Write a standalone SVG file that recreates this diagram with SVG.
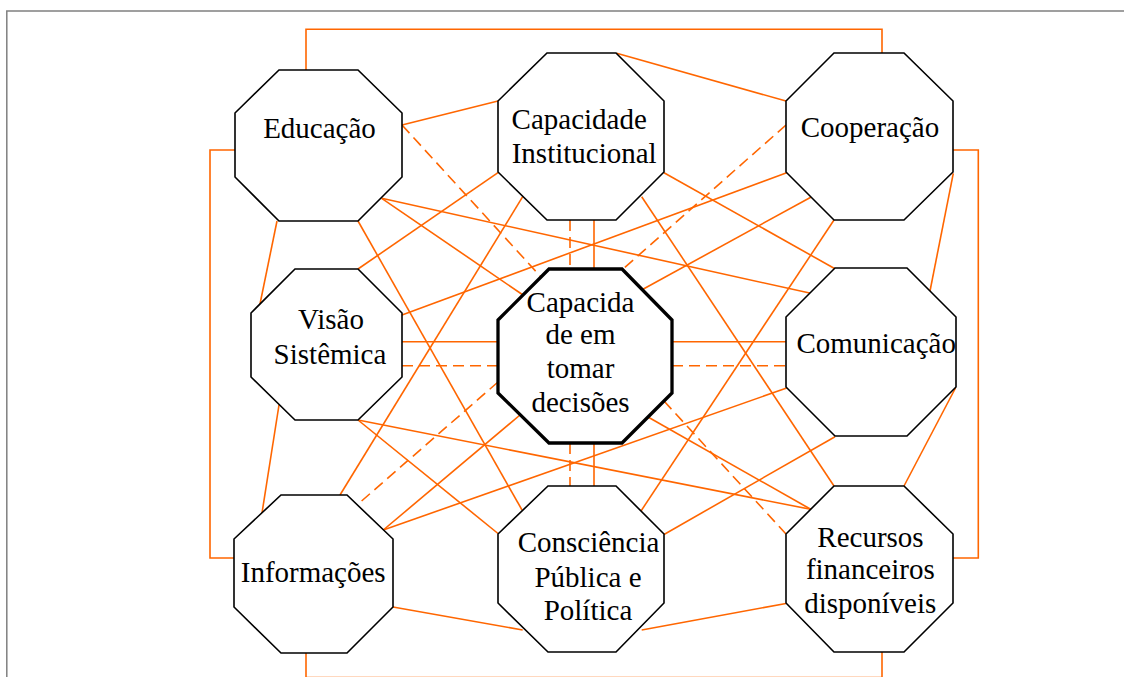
<svg xmlns="http://www.w3.org/2000/svg" width="1124" height="677" viewBox="0 0 1124 677">
<style>
.frame{fill:none;stroke:#808080;stroke-width:1.5}
.c{fill:none;stroke:#FF6600;stroke-width:1.6}
.d{fill:none;stroke:#FF6600;stroke-width:1.6;stroke-dasharray:11 6}
.oct{fill:#fff;stroke:#000;stroke-width:1.6;stroke-linejoin:miter}
.octc{fill:#fff;stroke:#000;stroke-width:3.3;stroke-linejoin:miter}
text{font-family:"Liberation Serif","Times New Roman",serif;font-size:29px;fill:#000;text-anchor:middle}
</style>
<rect width="1124" height="677" fill="#fff"/>
<polyline class="frame" points="6.8,677 6.8,11 1124,11"/>
<g id="connectors">
<polyline class="c" points="306,70 306,29.3 882,29.3 882,53"/>
<polyline class="c" points="235,150 210,150 210,558 234,558"/>
<polyline class="c" points="953,150 978.3,150 978.3,558 953,558"/>
<polyline class="c" points="306,653 306,677.6 882,677.6 882,652"/>
<line class="c" x1="402" y1="125" x2="498" y2="101"/>
<line class="d" x1="402" y1="125" x2="541" y2="277"/>
<line class="c" x1="381.7" y1="198.3" x2="810.7" y2="293.3"/>
<line class="c" x1="381.7" y1="198.3" x2="523" y2="295"/>
<line class="c" x1="277" y1="221" x2="260" y2="304"/>
<line class="c" x1="358" y1="221" x2="522" y2="510"/>
<line class="c" x1="616.7" y1="53.3" x2="786" y2="101"/>
<line class="c" x1="498" y1="172.7" x2="358" y2="269"/>
<line class="c" x1="522.7" y1="196.7" x2="340" y2="495"/>
<line class="c" x1="664" y1="172.7" x2="834.5" y2="268.5"/>
<line class="c" x1="641.7" y1="196.7" x2="834" y2="486"/>
<line class="c" x1="594" y1="220" x2="594" y2="269"/>
<line class="d" x1="570" y1="220" x2="570" y2="269"/>
<line class="c" x1="786.7" y1="172.7" x2="402" y2="315"/>
<line class="c" x1="811.7" y1="196.7" x2="642.5" y2="289.5"/>
<line class="d" x1="786" y1="125" x2="623" y2="269"/>
<line class="c" x1="834" y1="220" x2="641" y2="511"/>
<line class="c" x1="953.3" y1="173.3" x2="930" y2="291"/>
<line class="c" x1="402" y1="341.7" x2="498" y2="341.7"/>
<line class="d" x1="402" y1="365.7" x2="498" y2="365.7"/>
<line class="c" x1="358" y1="420" x2="498" y2="533.5"/>
<line class="c" x1="358" y1="420" x2="810.7" y2="509.3"/>
<line class="c" x1="279" y1="405" x2="262" y2="513"/>
<line class="c" x1="672" y1="341.7" x2="786" y2="341.7"/>
<line class="d" x1="672" y1="365.7" x2="786" y2="365.7"/>
<line class="d" x1="498" y1="382" x2="357" y2="505"/>
<line class="c" x1="520" y1="415" x2="383.3" y2="530"/>
<line class="d" x1="570" y1="443" x2="570" y2="486"/>
<line class="c" x1="594" y1="443" x2="594" y2="486"/>
<line class="d" x1="664" y1="401" x2="786" y2="534"/>
<line class="c" x1="648" y1="417" x2="810.7" y2="509.3"/>
<line class="c" x1="786.7" y1="388" x2="383.3" y2="530"/>
<line class="c" x1="835" y1="436.7" x2="664" y2="534.5"/>
<line class="c" x1="955.5" y1="388" x2="904" y2="486"/>
<line class="c" x1="393" y1="607" x2="522.7" y2="630"/>
<line class="c" x1="641.7" y1="630" x2="786" y2="603.5"/>
</g>
<g id="educacao">
<polygon class="oct" points="279,70 358,70 402,113 402,177 358,221 279,221 235,177 235,113"/>
<text x="319.5" y="138">Educação</text>
</g>
<g id="capacidade-institucional">
<polygon class="oct" points="547,53 616,53 664,101 664,172 616,220 547,220 498,172 498,101"/>
<text x="579.2" y="128.5">Capacidade</text>
<text x="584.2" y="162.7">Institucional</text>
</g>
<g id="cooperacao">
<polygon class="oct" points="834,53 904,53 953,101 953,172 904,220 834,220 786,172 786,101"/>
<text x="870" y="136.7">Cooperação</text>
</g>
<g id="visao-sistemica">
<polygon class="oct" points="295,269 358,269 402,313 402,377 358,420 295,420 251,377 251,313"/>
<text x="331" y="329.3">Visão</text>
<text x="330" y="364">Sistêmica</text>
</g>
<g id="capacidade-decisoes">
<polygon class="octc" points="549,269 622,269 672,320 672,393 622,443 549,443 498,393 498,320"/>
<text x="580.5" y="311.7">Capacida</text>
<text x="580.5" y="344.3">de em</text>
<text x="580.5" y="378.3">tomar</text>
<text x="580.5" y="412.3">decisões</text>
</g>
<g id="comunicacao">
<polygon class="oct" points="835,268 907,268 956,317 956,387 907,436 835,436 786,387 786,317"/>
<text x="876.2" y="352.7">Comunicação</text>
</g>
<g id="informacoes">
<polygon class="oct" points="281,495 347,495 393,539 393,607 347,653 281,653 234,607 234,539"/>
<text x="313.2" y="581.7">Informações</text>
</g>
<g id="consciencia">
<polygon class="oct" points="548,486 616,486 664,534 664,603 616,652 548,652 498,603 498,534"/>
<text x="588.5" y="552.3">Consciência</text>
<text x="588" y="586.7">Pública e</text>
<text x="588" y="620">Política</text>
</g>
<g id="recursos">
<polygon class="oct" points="834,486 904,486 953,534 953,603 904,652 834,652 786,603 786,534"/>
<text x="870.5" y="546.7">Recursos</text>
<text x="870.3" y="579.3">financeiros</text>
<text x="870.2" y="613.3">disponíveis</text>
</g>
</svg>
